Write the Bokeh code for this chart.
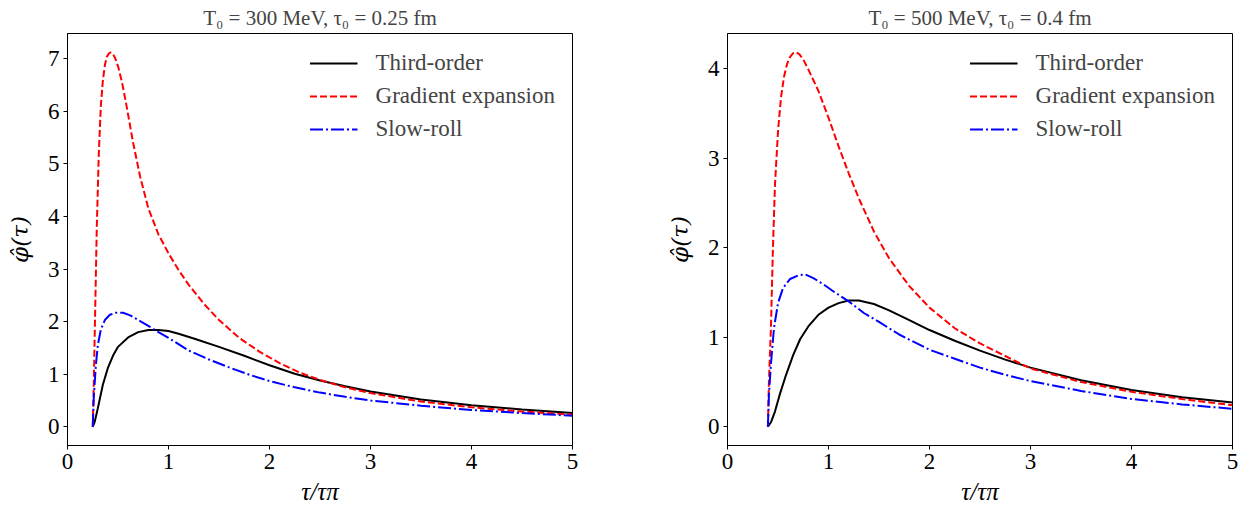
from bokeh.plotting import figure
from bokeh.layouts import row
from bokeh.embed import file_html
from bokeh.resources import INLINE
from bokeh.models import Range1d, FixedTicker

# ---------------- data: left panel (T0 = 300 MeV, tau0 = 0.25 fm) ----------------
left_title = "T₀ = 300 MeV, τ₀ = 0.25 fm"
left_x_third = [0.25, 0.27, 0.3, 0.35, 0.4, 0.45, 0.5, 0.6, 0.7, 0.8, 0.9, 1.0, 1.1, 1.25,
                1.5, 1.75, 2.0, 2.25, 2.5, 2.75, 3.0, 3.5, 4.0, 4.5, 5.0]
left_y_third = [0.0, 0.1, 0.35, 0.8, 1.12, 1.35, 1.52, 1.7, 1.8, 1.84, 1.84, 1.82, 1.77, 1.68,
                1.52, 1.35, 1.17, 1.01, 0.88, 0.77, 0.67, 0.52, 0.41, 0.33, 0.26]
left_x_grad = [0.25, 0.26, 0.275, 0.29, 0.31, 0.33, 0.35, 0.37, 0.39, 0.41, 0.43, 0.45, 0.47,
               0.5, 0.54, 0.58, 0.65, 0.72, 0.8, 0.9, 1.0, 1.1, 1.2, 1.35, 1.5, 1.7, 1.9,
               2.1, 2.3, 2.5, 2.75, 3.0, 3.5, 4.0, 4.5, 5.0]
left_y_grad = [0.0, 0.8, 2.3, 3.8, 5.2, 6.1, 6.58, 6.88, 7.04, 7.1, 7.12, 7.09, 7.02,
               6.86, 6.55, 6.15, 5.4, 4.75, 4.16, 3.66, 3.3, 2.98, 2.7, 2.34, 2.03, 1.69,
               1.43, 1.21, 1.03, 0.89, 0.75, 0.64, 0.48, 0.37, 0.29, 0.23]
left_x_slow = [0.25, 0.26, 0.28, 0.3, 0.33, 0.37, 0.42, 0.48, 0.55, 0.62, 0.7, 0.8, 0.9, 1.0,
               1.2, 1.4, 1.6, 1.8, 2.0, 2.25, 2.5, 2.75, 3.0, 3.5, 4.0, 4.5, 5.0]
left_y_slow = [0.0, 0.55, 1.15, 1.55, 1.85, 2.03, 2.13, 2.17, 2.17, 2.12, 2.03, 1.92, 1.8,
               1.69, 1.45, 1.28, 1.13, 0.99, 0.87, 0.75, 0.65, 0.57, 0.5, 0.4, 0.32, 0.26,
               0.21]
left_yticks = [0, 1, 2, 3, 4, 5, 6, 7]

# ---------------- data: right panel (T0 = 500 MeV, tau0 = 0.4 fm) ----------------
right_title = "T₀ = 500 MeV, τ₀ = 0.4 fm"
right_x_third = [0.4, 0.43, 0.47, 0.52, 0.58, 0.65, 0.72, 0.8, 0.9, 1.0, 1.1, 1.2, 1.3, 1.45,
                 1.6, 1.8, 2.0, 2.25, 2.5, 2.75, 3.0, 3.5, 4.0, 4.5, 5.0]
right_y_third = [0.0, 0.05, 0.17, 0.37, 0.58, 0.8, 0.98, 1.12, 1.25, 1.33, 1.38, 1.41, 1.41,
                 1.37, 1.3, 1.19, 1.08, 0.96, 0.85, 0.75, 0.66, 0.52, 0.41, 0.33, 0.27]
right_x_grad = [0.4, 0.41, 0.43, 0.45, 0.47, 0.5, 0.53, 0.56, 0.59, 0.62, 0.65, 0.68, 0.71,
                0.75, 0.8, 0.9, 1.0, 1.1, 1.2, 1.3, 1.45, 1.6, 1.8, 2.0, 2.25, 2.5, 2.75,
                3.0, 3.5, 4.0, 4.5, 5.0]
right_y_grad = [0.0, 0.5, 1.1, 2.0, 2.7, 3.3, 3.68, 3.91, 4.05, 4.13, 4.17, 4.18, 4.16,
                4.1, 3.99, 3.75, 3.45, 3.13, 2.83, 2.55, 2.18, 1.88, 1.57, 1.33, 1.1, 0.93,
                0.79, 0.65, 0.5, 0.39, 0.31, 0.24]
right_x_slow = [0.4, 0.41, 0.43, 0.46, 0.5, 0.55, 0.62, 0.7, 0.77, 0.85, 0.95, 1.05, 1.2,
                1.35, 1.5, 1.7, 2.0, 2.25, 2.5, 2.75, 3.0, 3.5, 4.0, 4.5, 5.0]
right_y_slow = [0.0, 0.35, 0.7, 1.1, 1.38, 1.55, 1.65, 1.69, 1.7, 1.66, 1.59, 1.51, 1.4,
                1.27, 1.17, 1.03, 0.86, 0.76, 0.66, 0.58, 0.51, 0.4, 0.31, 0.25, 0.2]
right_yticks = [0, 1, 2, 3, 4]

xticks = [0, 1, 2, 3, 4, 5]
series_names = ["Third-order", "Gradient expansion", "Slow-roll"]
x_label = "τ/τπ"
y_label = "φ̂(τ)"

FONT = "Liberation Serif"


def make_panel(title, xs, ys, yticks, ymin, ymax, left_border, right_border):
    p = figure(frame_width=505, frame_height=412, output_backend="svg",
               toolbar_location=None, x_range=Range1d(0, 5), y_range=Range1d(ymin, ymax),
               min_border_left=left_border, min_border_right=right_border,
               min_border_top=29, min_border_bottom=56)
    p.title.text = title
    p.title.text_font = FONT
    p.title.text_font_size = "21px"
    p.title.text_font_style = "normal"
    p.title.align = "center"
    p.title.standoff = 7
    p.grid.visible = False
    p.outline_line_color = "black"
    p.outline_line_width = 1
    p.background_fill_color = "white"
    p.border_fill_color = "white"

    for ax in (p.xaxis[0], p.yaxis[0]):
        ax.major_label_text_font = FONT
        ax.major_label_text_font_size = "23px"
        ax.minor_tick_line_color = None
        ax.major_tick_in = 0
        ax.major_tick_out = 4
        ax.axis_line_color = "black"
        ax.major_tick_line_color = "black"
        ax.major_label_text_color = "black"
        ax.axis_label_text_color = "black"
        ax.axis_label_text_font_style = "italic"
    p.xaxis.ticker = FixedTicker(ticks=xticks)
    p.yaxis.ticker = FixedTicker(ticks=yticks)
    p.xaxis.axis_label = x_label
    p.xaxis.axis_label_text_font = FONT
    p.xaxis.axis_label_text_font_size = "25px"
    p.yaxis.axis_label = y_label
    p.yaxis.axis_label_text_font = "DejaVu Serif"
    p.yaxis.axis_label_text_font_size = "23px"
    p.xaxis.major_label_standoff = 4
    p.yaxis.major_label_standoff = 4
    p.xaxis.axis_label_standoff = 6
    p.yaxis.axis_label_standoff = 12

    styles = [("black", None), ("red", "7 3"), ("blue", "13 3 2 3")]
    for (x, y), name, (col, dash) in zip(zip(xs, ys), series_names, styles):
        kw = dict(line_color=col, line_width=2, legend_label=name)
        if dash:
            kw["line_dash"] = dash
        p.line(x, y, **kw)

    lg = p.legend[0]
    lg.location = "top_right"
    lg.border_line_color = None
    lg.background_fill_alpha = 0
    lg.label_text_font = FONT
    lg.label_text_font_size = "23px"
    lg.glyph_width = 48
    lg.glyph_height = 20
    lg.label_standoff = 18
    lg.spacing = 7
    lg.padding = 4
    lg.margin = 17
    return p


p1 = make_panel(left_title,
                [left_x_third, left_x_grad, left_x_slow],
                [left_y_third, left_y_grad, left_y_slow],
                left_yticks, -0.356, 7.48, 67, 91)
p2 = make_panel(right_title,
                [right_x_third, right_x_grad, right_x_slow],
                [right_y_third, right_y_grad, right_y_slow],
                right_yticks, -0.209, 4.39, 64, 10)

layout = row(p1, p2)
open("out.html", "w").write(file_html(layout, INLINE))
